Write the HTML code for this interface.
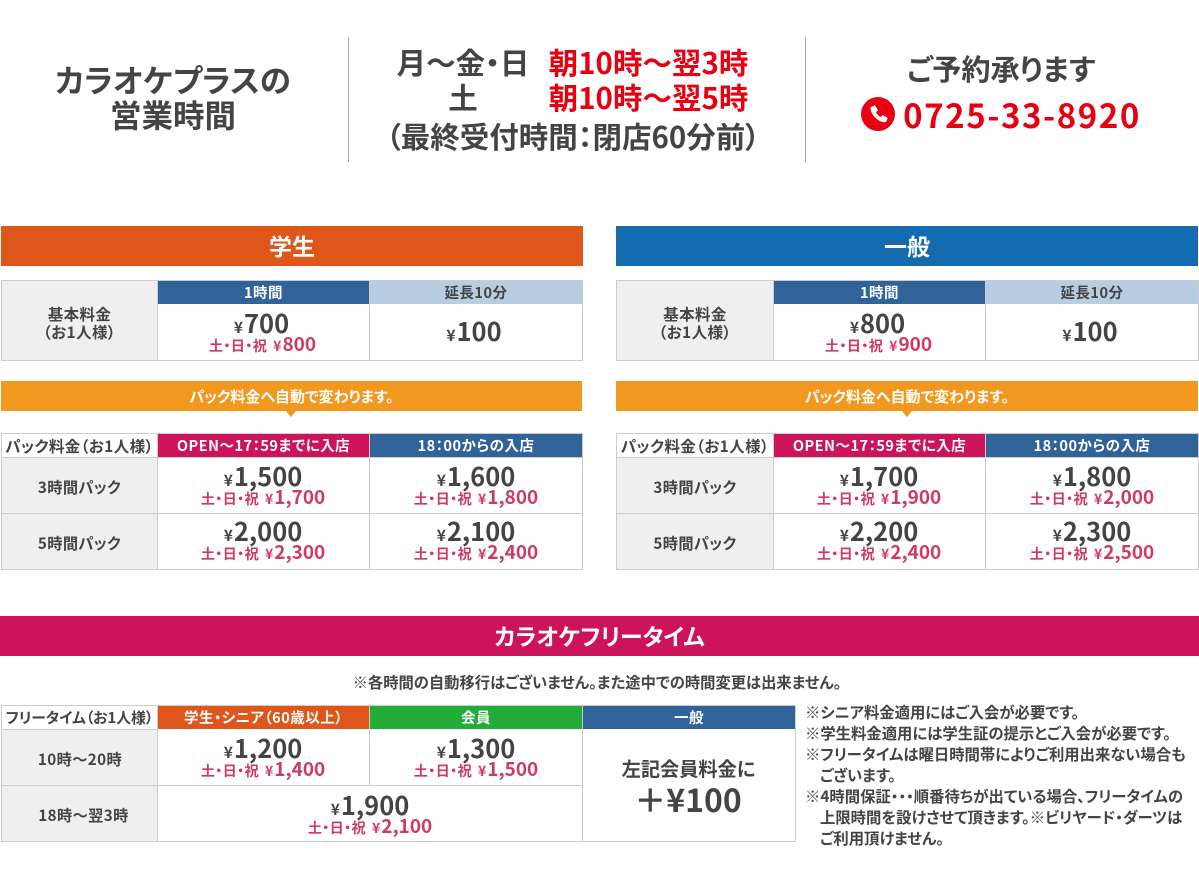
<!DOCTYPE html>
<html lang="ja">
<head>
<meta charset="utf-8">
<title>カラオケプラス 料金表</title>
<style>
html,body{margin:0;padding:0;background:#fff}
#page{position:relative;width:1199px;height:880px;overflow:hidden;background:#fff;font-family:"Noto Sans CJK JP","Liberation Sans",sans-serif;font-weight:700;color:#444;font-feature-settings:"palt"}
.b{position:absolute;box-sizing:border-box}
.x{position:absolute;white-space:nowrap;transform:translateX(-50%);text-align:center}
.bar{color:#fff;font-size:23px;line-height:38px;text-align:center}
.hd{color:#fff;font-size:14.5px;line-height:23px;text-align:center;letter-spacing:.5px}
.tb{position:absolute;box-sizing:border-box;background:#ccc}
.c{position:absolute;background:#fff}
.lb{background:#efefef;box-sizing:border-box;padding-top:2px;font-size:15.2px;line-height:18px;display:flex;align-items:center;justify-content:center;text-align:center;color:#444;letter-spacing:.4px}
.lb.w{background:#fff;padding-top:0;white-space:nowrap;font-size:15.5px}
.lb.t{padding-top:5px;font-size:15.5px}
.m{font-size:25.5px;line-height:26px;color:#444}
.m small{font-size:15.5px;margin-right:1px}
.s{font-size:19px;line-height:18px;color:#cf3a65;margin-top:-5px}
.s i{font-style:normal;font-size:14.2px;letter-spacing:.3px;margin-right:6px}
.s small{font-size:14px;margin-right:1px}
.r{color:#e60012}
.hr{font-size:29.5px;line-height:36px}
</style>
</head>
<body>
<div id="page">

<!-- Top info -->
<div class="x" style="left:173px;top:62px;font-size:31.5px;line-height:35px">カラオケプラスの<br>営業時間</div>
<div class="b" style="left:347.500px;top:37px;width:1.5px;height:125px;background:#a8a8a8"></div>
<div class="x hr" style="left:463px;top:44px">月～金・日</div>
<div class="x hr r" style="left:648.500px;top:44px">朝10時～翌3時</div>
<div class="x hr" style="left:463px;top:79px">土</div>
<div class="x hr r" style="left:648.500px;top:79px">朝10時～翌5時</div>
<div class="x hr" style="left:573px;top:118px">（最終受付時間：閉店60分前）</div>
<div class="b" style="left:804.500px;top:37px;width:1.5px;height:125px;background:#a8a8a8"></div>
<div class="x" style="left:1001px;top:50px;font-size:29.2px;line-height:36px">ご予約承ります</div>
<svg class="b" style="left:861px;top:97px" width="34" height="34" viewBox="0 0 34 34"><circle cx="17" cy="17" r="17" fill="#e60012"/><path d="M11 9.500l3-1.200 3 5-2 2c.8 2 2.500 3.800 4.700 4.700l2-2 5 3-1.200 3c-.5 1-1.500 1.300-2.500 1.200-6.500-1-12.500-7-13.500-13.500-.1-1 .5-1.800 1.500-2.200z" fill="#fff"/></svg>
<div class="x r" style="left:1022px;top:93px;font-size:33px;line-height:42px;letter-spacing:1.55px">0725-33-8920</div>

<!-- Student block -->
<div class="b bar" style="left:1px;top:226px;width:582px;height:40px;background:#de561a">学生</div>
<div class="tb" style="left:1px;top:280px;width:582px;height:81px"></div>
<div class="c lb t" style="left:2px;top:281px;width:155px;height:79px">基本料金<br>（お1人様）</div>
<div class="c hd" style="left:158px;top:281px;width:211px;height:23px;background:#2f6399">1時間</div>
<div class="c hd" style="left:370px;top:281px;width:212px;height:23px;background:#b8cde2;color:#444">延長10分</div>
<div class="c" style="left:158px;top:304px;width:211px;height:56px"></div>
<div class="c" style="left:370px;top:304px;width:212px;height:56px"></div>
<div class="x" style="left:261.500px;top:310px"><div class="m"><small>¥</small>700</div><div class="s" style="margin-left:2px"><i>土・日・祝</i><small>¥</small>800</div></div>
<div class="x" style="left:474px;top:318px"><div class="m"><small>¥</small>100</div></div>

<div class="b" style="left:1px;top:381px;width:581px;height:30px;background:#f3981e;color:#fff;font-size:15px;line-height:31px;text-align:center">パック料金へ自動で変わります。</div>
<div class="b" style="left:286px;top:411px;width:0;height:0;border-left:5px solid transparent;border-right:5px solid transparent;border-top:6px solid #f3981e"></div>

<div class="tb" style="left:1px;top:433px;width:582px;height:137px"></div>
<div class="c lb w" style="left:2px;top:434px;width:155px;height:23px">パック料金（お1人様）</div>
<div class="c hd" style="left:158px;top:434px;width:211px;height:23px;background:#cd1359">OPEN～17：59までに入店</div>
<div class="c hd" style="left:370px;top:434px;width:212px;height:23px;background:#2f6399">18：00からの入店</div>
<div class="c lb" style="left:2px;top:458px;width:155px;height:55px">3時間パック</div>
<div class="c lb" style="left:2px;top:514px;width:155px;height:55px">5時間パック</div>
<div class="c" style="left:158px;top:458px;width:211px;height:55px"></div>
<div class="c" style="left:370px;top:458px;width:212px;height:55px"></div>
<div class="c" style="left:158px;top:514px;width:211px;height:55px"></div>
<div class="c" style="left:370px;top:514px;width:212px;height:55px"></div>
<div class="x" style="left:263px;top:463px"><div class="m"><small>¥</small>1,500</div><div class="s"><i>土・日・祝</i><small>¥</small>1,700</div></div>
<div class="x" style="left:476px;top:463px"><div class="m"><small>¥</small>1,600</div><div class="s"><i>土・日・祝</i><small>¥</small>1,800</div></div>
<div class="x" style="left:263px;top:518px"><div class="m"><small>¥</small>2,000</div><div class="s"><i>土・日・祝</i><small>¥</small>2,300</div></div>
<div class="x" style="left:476px;top:518px"><div class="m"><small>¥</small>2,100</div><div class="s"><i>土・日・祝</i><small>¥</small>2,400</div></div>

<!-- General block -->
<div class="b bar" style="left:616px;top:226px;width:582px;height:40px;background:#156bb0">一般</div>
<div class="tb" style="left:616px;top:280px;width:583px;height:81px"></div>
<div class="c lb t" style="left:617px;top:281px;width:156px;height:79px">基本料金<br>（お1人様）</div>
<div class="c hd" style="left:774px;top:281px;width:211px;height:23px;background:#2f6399">1時間</div>
<div class="c hd" style="left:986px;top:281px;width:212px;height:23px;background:#b8cde2;color:#444">延長10分</div>
<div class="c" style="left:774px;top:304px;width:211px;height:56px"></div>
<div class="c" style="left:986px;top:304px;width:212px;height:56px"></div>
<div class="x" style="left:877.500px;top:310px"><div class="m"><small>¥</small>800</div><div class="s" style="margin-left:2px"><i>土・日・祝</i><small>¥</small>900</div></div>
<div class="x" style="left:1090px;top:318px"><div class="m"><small>¥</small>100</div></div>

<div class="b" style="left:616px;top:381px;width:582px;height:30px;background:#f3981e;color:#fff;font-size:15px;line-height:31px;text-align:center">パック料金へ自動で変わります。</div>
<div class="b" style="left:902px;top:411px;width:0;height:0;border-left:5px solid transparent;border-right:5px solid transparent;border-top:6px solid #f3981e"></div>

<div class="tb" style="left:616px;top:433px;width:583px;height:137px"></div>
<div class="c lb w" style="left:617px;top:434px;width:156px;height:23px">パック料金（お1人様）</div>
<div class="c hd" style="left:774px;top:434px;width:211px;height:23px;background:#cd1359">OPEN～17：59までに入店</div>
<div class="c hd" style="left:986px;top:434px;width:212px;height:23px;background:#2f6399">18：00からの入店</div>
<div class="c lb" style="left:617px;top:458px;width:156px;height:55px">3時間パック</div>
<div class="c lb" style="left:617px;top:514px;width:156px;height:55px">5時間パック</div>
<div class="c" style="left:774px;top:458px;width:211px;height:55px"></div>
<div class="c" style="left:986px;top:458px;width:212px;height:55px"></div>
<div class="c" style="left:774px;top:514px;width:211px;height:55px"></div>
<div class="c" style="left:986px;top:514px;width:212px;height:55px"></div>
<div class="x" style="left:879px;top:463px"><div class="m"><small>¥</small>1,700</div><div class="s"><i>土・日・祝</i><small>¥</small>1,900</div></div>
<div class="x" style="left:1092px;top:463px"><div class="m"><small>¥</small>1,800</div><div class="s"><i>土・日・祝</i><small>¥</small>2,000</div></div>
<div class="x" style="left:879px;top:518px"><div class="m"><small>¥</small>2,200</div><div class="s"><i>土・日・祝</i><small>¥</small>2,400</div></div>
<div class="x" style="left:1092px;top:518px"><div class="m"><small>¥</small>2,300</div><div class="s"><i>土・日・祝</i><small>¥</small>2,500</div></div>

<!-- Free time -->
<div class="b bar" style="left:0;top:616px;width:1199px;height:40px;background:#cd1359">カラオケフリータイム</div>
<div class="x" style="left:597px;top:672px;font-size:15.3px;line-height:20px">※各時間の自動移行はございません。また途中での時間変更は出来ません。</div>

<div class="tb" style="left:1px;top:705px;width:795px;height:137px"></div>
<div class="c lb w" style="left:2px;top:706px;width:155px;height:23px;font-size:14.8px;letter-spacing:0">フリータイム（お1人様）</div>
<div class="c hd" style="left:158px;top:706px;width:211px;height:23px;background:#de561a">学生・シニア（60歳以上）</div>
<div class="c hd" style="left:370px;top:706px;width:212px;height:23px;background:#22ac38">会員</div>
<div class="c hd" style="left:583px;top:706px;width:212px;height:23px;background:#2f6399">一般</div>
<div class="c lb" style="left:2px;top:730px;width:155px;height:55px;padding-left:1px">10時～20時</div>
<div class="c lb" style="left:2px;top:786px;width:155px;height:55px;padding-left:8px">18時～翌3時</div>
<div class="c" style="left:158px;top:729px;width:211px;height:56px"></div>
<div class="c" style="left:370px;top:729px;width:212px;height:56px"></div>
<div class="c" style="left:158px;top:786px;width:424px;height:55px"></div>
<div class="c" style="left:583px;top:729px;width:212px;height:112px"></div>
<div class="x" style="left:263px;top:735px"><div class="m"><small>¥</small>1,200</div><div class="s"><i>土・日・祝</i><small>¥</small>1,400</div></div>
<div class="x" style="left:476px;top:735px"><div class="m"><small>¥</small>1,300</div><div class="s"><i>土・日・祝</i><small>¥</small>1,500</div></div>
<div class="x" style="left:370px;top:792px"><div class="m"><small>¥</small>1,900</div><div class="s"><i>土・日・祝</i><small>¥</small>2,100</div></div>
<div class="x" style="left:688.500px;top:756px;font-size:19.2px;line-height:24px">左記会員料金に</div>
<div class="x" style="left:688px;top:779px;font-size:32px;line-height:40px">＋¥100</div>

<div class="b" style="left:805px;top:702px;width:394px;font-size:15.35px;line-height:21px;white-space:nowrap;color:#444">
※シニア料金適用にはご入会が必要です。<br>
※学生料金適用には学生証の提示とご入会が必要です。<br>
※フリータイムは曜日時間帯によりご利用出来ない場合も<br>
<span style="margin-left:15px">ございます。</span><br>
※4時間保証・・・順番待ちが出ている場合、フリータイムの<br>
<span style="margin-left:15px">上限時間を設けさせて頂きます。※ビリヤード・ダーツは</span><br>
<span style="margin-left:15px">ご利用頂けません。</span>
</div>

</div>
</body>
</html>
